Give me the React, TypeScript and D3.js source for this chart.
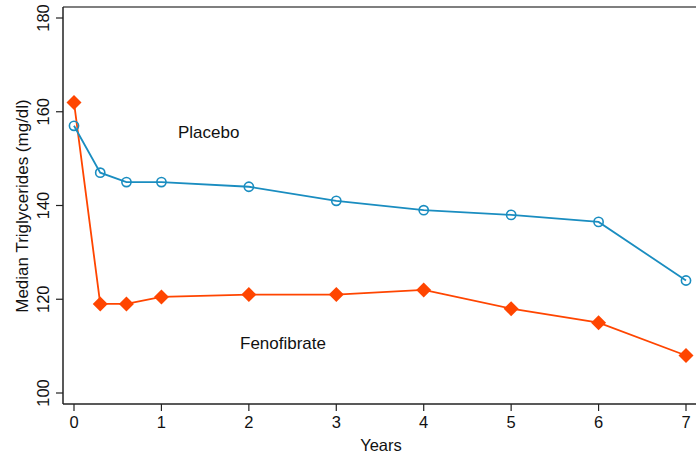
import React from "react";
import * as d3 from "d3";

const years = [0, 0.3, 0.6, 1, 2, 3, 4, 5, 6, 7];
const placebo = [157, 147, 145, 145, 144, 141, 139, 138, 136.5, 124];
const fenofibrate = [162, 119, 119, 120.5, 121, 121, 122, 118, 115, 108];
const xTicks = [0, 1, 2, 3, 4, 5, 6, 7];
const yTicks = [100, 120, 140, 160, 180];

const W = 696;
const H = 463;
const BLUE = "#1a8dc0";
const ORANGE = "#ff4500";
const FONT = "'Liberation Sans', Arial, Helvetica, sans-serif";

export default function App() {
  const x = d3.scaleLinear().domain([0, 7]).range([74, 686]);
  const y = d3.scaleLinear().domain([100, 180]).range([393, 18]);
  const line = d3
    .line<[number, number]>()
    .x((d) => x(d[0]))
    .y((d) => y(d[1]));
  const pData = years.map((t, i) => [t, placebo[i]] as [number, number]);
  const fData = years.map((t, i) => [t, fenofibrate[i]] as [number, number]);
  const left = 63;
  const bottom = 404;
  const top = 7;
  const dr = 7.5;

  return (
    <svg
      width={W}
      height={H}
      style={{ position: "absolute", left: 0, top: 0, background: "#fff" }}
      fontFamily={FONT}
    >
      <rect width={W} height={H} fill="#fff" />
      {/* frame */}
      <line x1={left} x2={W} y1={top} y2={top} stroke="#555" strokeWidth={1.5} />
      <line x1={left} x2={left} y1={top} y2={bottom} stroke="#222" strokeWidth={1.5} />
      <line x1={left} x2={W} y1={bottom} y2={bottom} stroke="#222" strokeWidth={1.5} />
      {/* y ticks */}
      {yTicks.map((v) => (
        <g key={"y" + v}>
          <line x1={left - 7} x2={left} y1={y(v)} y2={y(v)} stroke="#222" strokeWidth={1.2} />
          <text
            transform={`translate(${left - 14},${y(v)}) rotate(-90)`}
            textAnchor="middle"
            fontSize={16.5}
            fill="#111"
          >
            {v}
          </text>
        </g>
      ))}
      {/* x ticks */}
      {xTicks.map((v) => (
        <g key={"x" + v}>
          <line x1={x(v)} x2={x(v)} y1={bottom} y2={bottom + 7} stroke="#222" strokeWidth={1.2} />
          <text x={x(v)} y={428} textAnchor="middle" fontSize={16.5} fill="#111">
            {v}
          </text>
        </g>
      ))}
      <text
        transform={`translate(28,206) rotate(-90)`}
        textAnchor="middle"
        fontSize={17}
        fill="#111"
      >
        Median Triglycerides (mg/dl)
      </text>
      <text x={381} y={451} textAnchor="middle" fontSize={16.5} fill="#111">
        Years
      </text>
      {/* series */}
      <path d={line(fData) || ""} fill="none" stroke={ORANGE} strokeWidth={1.8} />
      <path d={line(pData) || ""} fill="none" stroke={BLUE} strokeWidth={1.8} />
      {fData.map((d, i) => (
        <path
          key={"f" + i}
          d={`M${x(d[0])},${y(d[1]) - dr}L${x(d[0]) + dr},${y(d[1])}L${x(d[0])},${y(d[1]) + dr}L${x(d[0]) - dr},${y(d[1])}Z`}
          fill={ORANGE}
        />
      ))}
      {pData.map((d, i) => (
        <circle
          key={"p" + i}
          cx={x(d[0])}
          cy={y(d[1])}
          r={4.6}
          fill="none"
          stroke={BLUE}
          strokeWidth={1.6}
        />
      ))}
      <text x={178} y={138} fontSize={17} fill="#111">
        Placebo
      </text>
      <text x={240} y={349} fontSize={17} fill="#111">
        Fenofibrate
      </text>
    </svg>
  );
}
